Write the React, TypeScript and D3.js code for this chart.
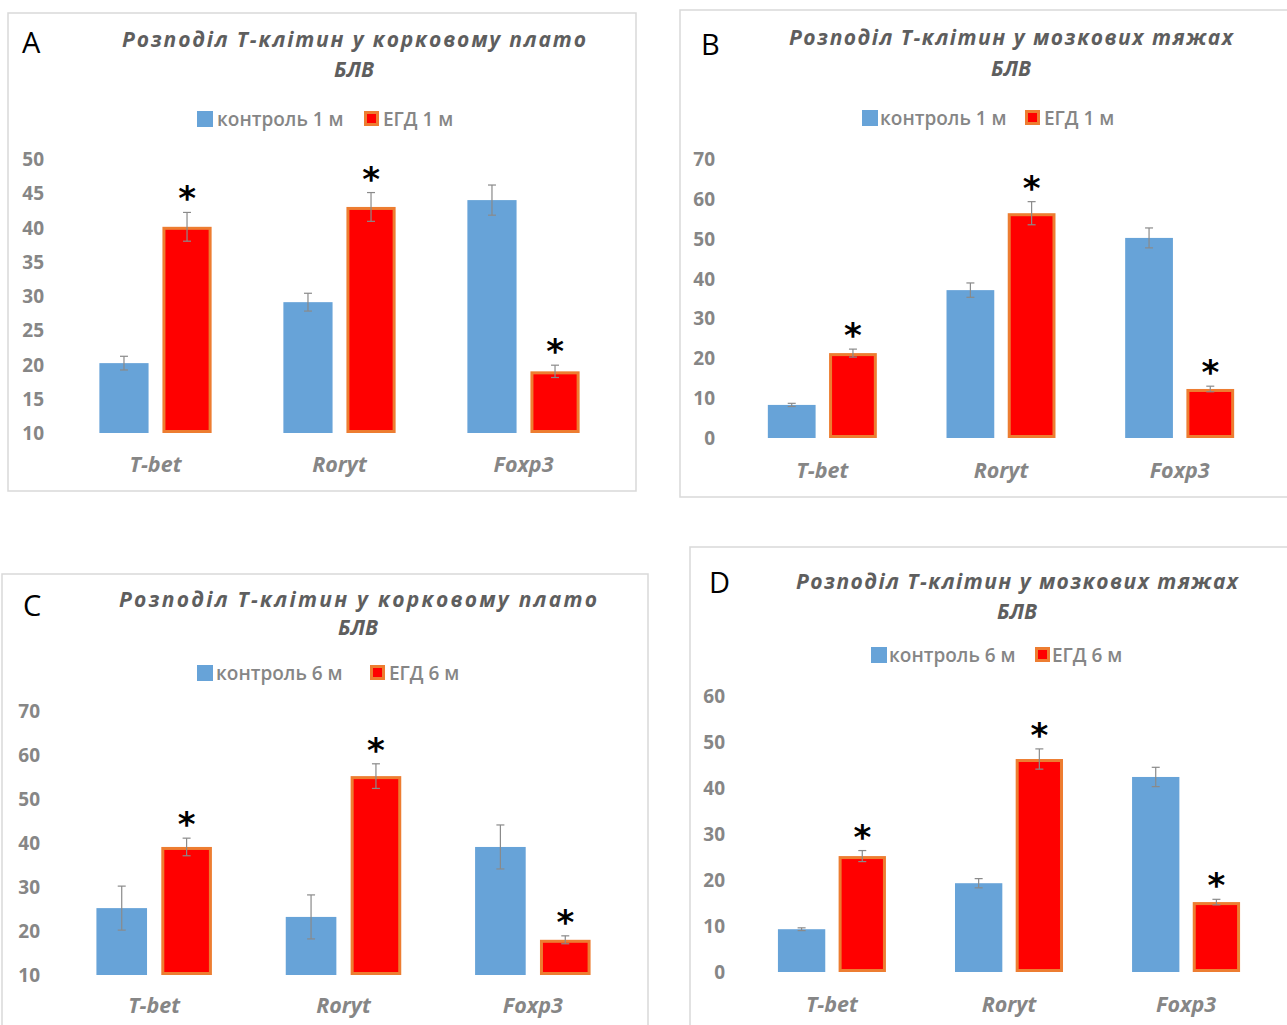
import React from "react";
import * as d3 from "d3";

const categories = ["T-bet", "Roryt", "Foxp3"];

const ctrlA = [20.2, 29.1, 44.0];
const ctrlErrA = [1.0, 1.3, 2.2];
const egdA = [40.1, 43.0, 19.0];
const egdErrA = [2.1, 2.1, 0.9];

const ctrlB = [8.3, 37.1, 50.2];
const ctrlErrB = [0.4, 1.8, 2.5];
const egdB = [21.3, 56.4, 12.3];
const egdErrB = [1.0, 2.9, 0.7];

const ctrlC = [25.2, 23.2, 39.1];
const ctrlErrC = [5.0, 5.0, 5.0];
const egdC = [39.1, 55.2, 18.0];
const egdErrC = [2.0, 2.8, 0.9];

const ctrlD = [9.3, 19.3, 42.4];
const ctrlErrD = [0.3, 1.0, 2.1];
const egdD = [25.2, 46.3, 15.2];
const egdErrD = [1.2, 2.2, 0.6];

const ticksA = [10, 15, 20, 25, 30, 35, 40, 45, 50];
const ticksB = [0, 10, 20, 30, 40, 50, 60, 70];
const ticksC = [10, 20, 30, 40, 50, 60, 70];
const ticksD = [0, 10, 20, 30, 40, 50, 60];

const titleCortex = "Розподіл  Т-клітин  у корковому  плато";
const titleMedulla = "Розподіл  Т-клітин  у мозкових  тяжах";
const titleLine2 = "БЛВ";
const legend1 = ["контроль 1 м", "ЕГД 1 м"];
const legend6 = ["контроль 6 м", "ЕГД 6 м"];
const panelLetters = ["A", "B", "C", "D"];

const BLUE = "#67A3D8";
const RED = "#FF0000";
const ORANGE = "#ED7D31";
const GRAY = "#868686";
const ERR_GRAY = "#8A8A8A";
const TITLE_GRAY = "#5E5E5E";
const FONT = "'Open Sans', 'Noto Sans', sans-serif";

type Layout = {
  box: [number, number, number, number];
  yRange: [number, number];
  xRange: [number, number];
  tickX: number;
  catY: number;
  titleCx: number;
  titleY: [number, number];
  titleW: number;
  legendY: number;
  legendX: [number, number, number, number];
  letter: [number, number];
};

type PanelData = {
  ctrl: number[];
  ctrlErr: number[];
  egd: number[];
  egdErr: number[];
  ticks: number[];
  title: string;
  legend: string[];
  letter: string;
};

const panels: { data: PanelData; layout: Layout }[] = [
  {
    data: { ctrl: ctrlA, ctrlErr: ctrlErrA, egd: egdA, egdErr: egdErrA, ticks: ticksA, title: titleCortex, legend: legend1, letter: panelLetters[0] },
    layout: {
      box: [8, 13, 628, 478],
      yRange: [433, 159],
      xRange: [63.5, 615.5],
      tickX: 44,
      catY: 472,
      titleCx: 354,
      titleY: [47, 77],
      titleW: 464,
      legendY: 119,
      legendX: [197, 217, 364, 383],
      letter: [22, 53],
    },
  },
  {
    data: { ctrl: ctrlB, ctrlErr: ctrlErrB, egd: egdB, egdErr: egdErrB, ticks: ticksB, title: titleMedulla, legend: legend1, letter: panelLetters[1] },
    layout: {
      box: [680, 10, 620, 487],
      yRange: [438, 159],
      xRange: [733, 1269],
      tickX: 715,
      catY: 478,
      titleCx: 1011,
      titleY: [45, 76],
      titleW: 444,
      legendY: 118,
      legendX: [862, 880, 1025, 1044],
      letter: [701, 55],
    },
  },
  {
    data: { ctrl: ctrlC, ctrlErr: ctrlErrC, egd: egdC, egdErr: egdErrC, ticks: ticksC, title: titleCortex, legend: legend6, letter: panelLetters[2] },
    layout: {
      box: [2, 574, 646, 470],
      yRange: [975, 711],
      xRange: [59.5, 627.5],
      tickX: 40,
      catY: 1013,
      titleCx: 358,
      titleY: [607, 635],
      titleW: 478,
      legendY: 673,
      legendX: [197, 216, 370, 389],
      letter: [23, 616],
    },
  },
  {
    data: { ctrl: ctrlD, ctrlErr: ctrlErrD, egd: egdD, egdErr: egdErrD, ticks: ticksD, title: titleMedulla, legend: legend6, letter: panelLetters[3] },
    layout: {
      box: [690, 547, 620, 490],
      yRange: [972, 696],
      xRange: [743.4, 1274.6],
      tickX: 725,
      catY: 1012,
      titleCx: 1017,
      titleY: [589, 619],
      titleW: 442,
      legendY: 655,
      legendX: [871, 889, 1035, 1052],
      letter: [709, 593],
    },
  },
];

function ErrorBar({ x, y0, y1 }: { x: number; y0: number; y1: number }) {
  return (
    <g stroke={ERR_GRAY} strokeWidth={1.2}>
      <line x1={x} x2={x} y1={y0} y2={y1} />
      <line x1={x - 4} x2={x + 4} y1={y0} y2={y0} />
      <line x1={x - 4} x2={x + 4} y1={y1} y2={y1} />
    </g>
  );
}

function Panel({ data, layout }: { data: PanelData; layout: Layout }) {
  const ticks = data.ticks;
  const y = d3.scaleLinear().domain([ticks[0], ticks[ticks.length - 1]]).range(layout.yRange);
  const x = d3.scaleBand<string>().domain(categories).range(layout.xRange).paddingInner(0.39).paddingOuter(0.195);
  const sub = d3.scaleBand<string>().domain(["ctrl", "egd"]).range([0, x.bandwidth()]).paddingInner(0.22);
  const base = y(ticks[0]);
  const [bx, by, bw, bh] = layout.box;
  return (
    <g>
      <rect x={bx} y={by} width={bw} height={bh} fill="#fff" stroke="#D9D9D9" strokeWidth={1.5} />
      <text x={layout.letter[0]} y={layout.letter[1]} fontFamily={FONT} fontSize={29} fill="#000">
        {data.letter}
      </text>
      <text
        x={layout.titleCx}
        y={layout.titleY[0]}
        textAnchor="middle"
        fontFamily={FONT}
        fontWeight="bold"
        fontStyle="italic"
        fontSize={21}
        fill={TITLE_GRAY}
        textLength={layout.titleW}
        lengthAdjust="spacing"
      >
        {data.title}
      </text>
      <text x={layout.titleCx} y={layout.titleY[1]} textAnchor="middle" fontFamily={FONT} fontWeight="bold" fontStyle="italic" fontSize={21} fill={TITLE_GRAY}>
        {titleLine2}
      </text>
      {/* legend */}
      <rect x={layout.legendX[0]} y={layout.legendY - 8} width={16} height={16} fill={BLUE} />
      <text x={layout.legendX[1]} y={layout.legendY} dominantBaseline="central" fontFamily={FONT} fontWeight={600} fontSize={19} fill={GRAY}>
        {data.legend[0]}
      </text>
      <rect x={layout.legendX[2] + 1.5} y={layout.legendY - 6.5} width={12} height={12} fill={RED} stroke={ORANGE} strokeWidth={3} />
      <text x={layout.legendX[3]} y={layout.legendY} dominantBaseline="central" fontFamily={FONT} fontWeight={600} fontSize={19} fill={GRAY}>
        {data.legend[1]}
      </text>
      {/* y ticks */}
      {ticks.map((t) => (
        <text key={t} x={layout.tickX} y={y(t)} textAnchor="end" dominantBaseline="central" fontFamily={FONT} fontWeight="bold" fontSize={19} fill={GRAY}>
          {t}
        </text>
      ))}
      {categories.map((c, i) => {
        const gx = x(c)!;
        const cx = gx + sub("ctrl")!;
        const ex = gx + sub("egd")!;
        const w = sub.bandwidth();
        const cy = y(data.ctrl[i]);
        const ey = y(data.egd[i]);
        const errTop = y(data.egd[i] + data.egdErr[i]);
        return (
          <g key={c}>
            <rect x={cx} y={cy} width={w} height={base - cy} fill={BLUE} />
            <rect x={ex + 1.5} y={ey + 1.5} width={w - 3} height={base - ey - 3} fill={RED} stroke={ORANGE} strokeWidth={3} />
            <ErrorBar x={cx + w / 2} y0={y(data.ctrl[i] + data.ctrlErr[i])} y1={y(data.ctrl[i] - data.ctrlErr[i])} />
            <ErrorBar x={ex + w / 2} y0={errTop} y1={y(data.egd[i] - data.egdErr[i])} />
            <text x={ex + w / 2} y={errTop - 2} textAnchor="middle" fontFamily="'DejaVu Sans', sans-serif" fontWeight="bold" fontSize={34} fill="#000">
              *
            </text>
            <text x={gx + x.bandwidth() / 2} y={layout.catY} textAnchor="middle" fontFamily={FONT} fontWeight="bold" fontStyle="italic" fontSize={21.5} fill={GRAY}>
              {c}
            </text>
          </g>
        );
      })}
    </g>
  );
}

export default function App() {
  return (
    <svg width={1287} height={1025} style={{ position: "absolute", left: 0, top: 0, background: "#fff" }}>
      <rect width={1287} height={1025} fill="#fff" />
      {panels.map((p, i) => (
        <Panel key={i} data={p.data} layout={p.layout} />
      ))}
    </svg>
  );
}
